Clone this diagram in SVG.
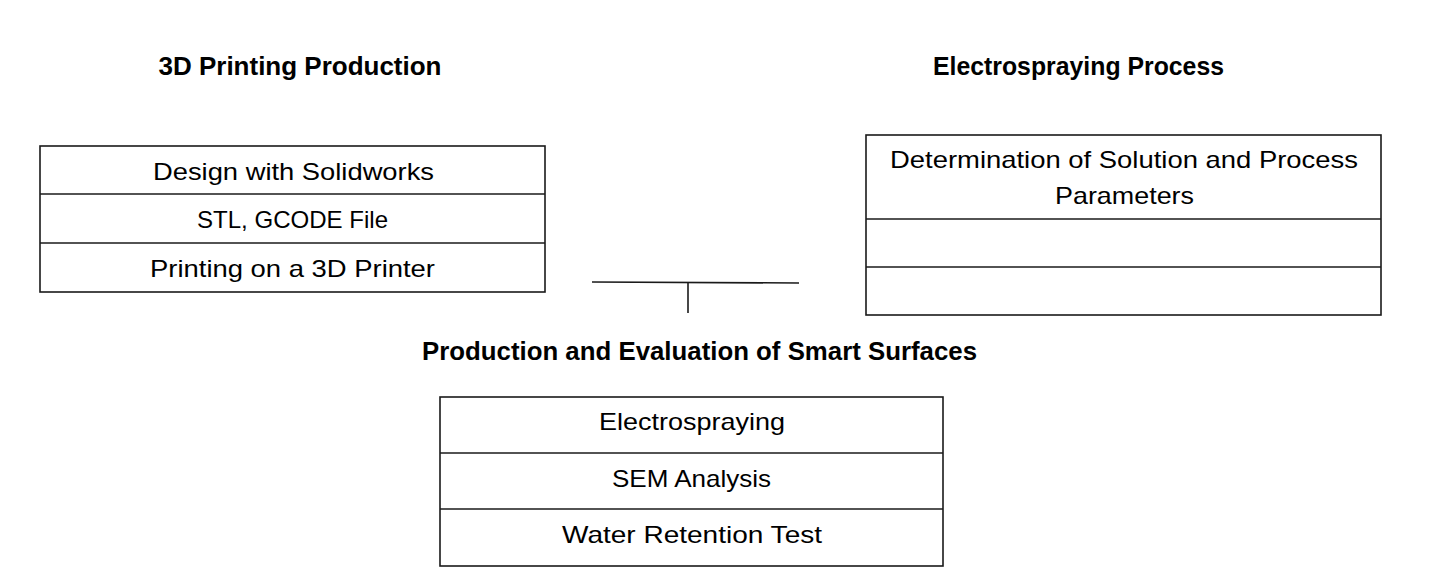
<svg xmlns="http://www.w3.org/2000/svg" width="1432" height="588" viewBox="0 0 1432 588">
<style>
.box{fill:#fff;stroke:#1a1a1a;stroke-width:1.6}
.div{stroke:#1a1a1a;stroke-width:1.6}
.t{font-family:"Liberation Sans",Arial,sans-serif;font-size:24px;fill:#000;text-anchor:middle}
.h{font-family:"Liberation Sans",Arial,sans-serif;font-size:26px;font-weight:bold;fill:#000;text-anchor:middle}
.c{stroke:#1a1a1a;stroke-width:1.6;fill:none}
</style>
<rect width="1432" height="588" fill="#fff"/>
<g id="title-3d"><text class="h" x="300" y="75" textLength="283" lengthAdjust="spacingAndGlyphs">3D Printing Production</text></g>
<g id="title-electro"><text class="h" x="1078.5" y="75" textLength="291" lengthAdjust="spacingAndGlyphs">Electrospraying Process</text></g>
<g id="title-smart"><text class="h" x="699.5" y="360" textLength="555" lengthAdjust="spacingAndGlyphs">Production and Evaluation of Smart Surfaces</text></g>
<g id="node-3d">
<rect class="box" x="40" y="146" width="505" height="146"/>
<line class="div" x1="40" y1="194" x2="545" y2="194"/>
<line class="div" x1="40" y1="243" x2="545" y2="243"/>
<text class="t" x="293.5" y="180" textLength="281" lengthAdjust="spacingAndGlyphs">Design with Solidworks</text>
<text class="t" x="292.5" y="228" textLength="191" lengthAdjust="spacingAndGlyphs">STL, GCODE File</text>
<text class="t" x="292.5" y="277" textLength="285" lengthAdjust="spacingAndGlyphs">Printing on a 3D Printer</text>
</g>
<g id="node-electro">
<rect class="box" x="866" y="135" width="515" height="180"/>
<line class="div" x1="866" y1="219" x2="1381" y2="219"/>
<line class="div" x1="866" y1="267" x2="1381" y2="267"/>
<text class="t" x="1124" y="168" textLength="468" lengthAdjust="spacingAndGlyphs">Determination of Solution and Process</text>
<text class="t" x="1124.5" y="204" textLength="139" lengthAdjust="spacingAndGlyphs">Parameters</text>
</g>
<g id="node-smart">
<rect class="box" x="440" y="397" width="503" height="169"/>
<line class="div" x1="440" y1="453" x2="943" y2="453"/>
<line class="div" x1="440" y1="509" x2="943" y2="509"/>
<text class="t" x="692" y="430" textLength="186" lengthAdjust="spacingAndGlyphs">Electrospraying</text>
<text class="t" x="691.5" y="487" textLength="159" lengthAdjust="spacingAndGlyphs">SEM Analysis</text>
<text class="t" x="692" y="543" textLength="260" lengthAdjust="spacingAndGlyphs">Water Retention Test</text>
</g>
<g id="connectors">
<line class="c" x1="592" y1="282" x2="799" y2="283"/>
<line class="c" x1="688" y1="282.5" x2="688" y2="313"/>
</g>
</svg>
